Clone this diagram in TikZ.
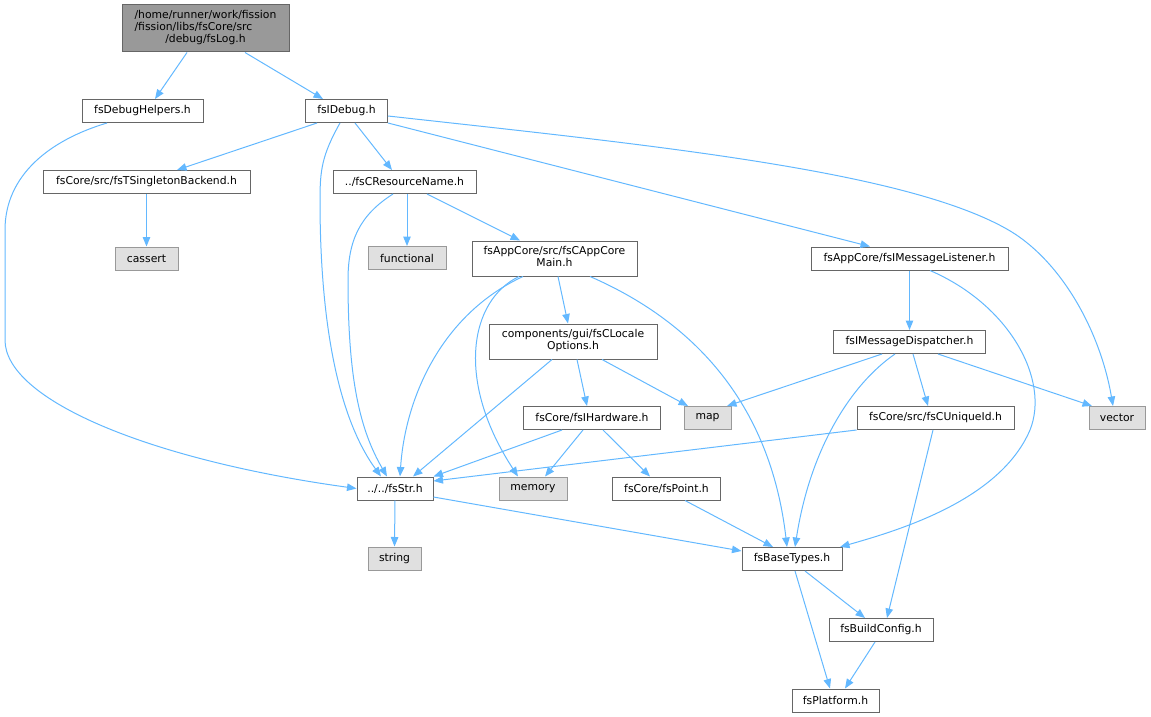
\documentclass[tikz,border=0pt]{standalone}
\usepackage{fontspec}
\setmainfont{DejaVu Sans}
\usetikzlibrary{arrows.meta}
\definecolor{edgec}{HTML}{63B8FF}
\definecolor{bord}{HTML}{666666}
\definecolor{extbord}{HTML}{999999}
\definecolor{extfill}{HTML}{E0E0E0}
\definecolor{rootfill}{HTML}{999999}
\tikzset{
  box/.style={draw=bord, fill=white, line width=1pt, rectangle, inner sep=0pt, font=\fontsize{10.8}{12}\selectfont, text=black},
  ext/.style={box, draw=extbord, fill=extfill},
  rootbox/.style={box, fill=rootfill},
  edge/.style={draw=edgec, line width=1pt, -{Triangle[length=9.5pt,width=7.5pt]}},
}
\begin{document}
\begin{tikzpicture}[x=1pt,y=-1pt]
\useasboundingbox (0,0) rectangle (1151,717);
% nodes
\node[rootbox, minimum width=167pt, minimum height=47pt] (root) at (205.5,28.5)
  {\begin{tabular}{@{}l@{}}/home/runner/work/fission\\/fission/libs/fsCore/src\\\multicolumn{1}{@{}c@{}}{/debug/fsLog.h}\end{tabular}};
\node[box, minimum width=121pt, minimum height=23pt] (dbgh) at (142.5,111) {fsDebugHelpers.h};
\node[box, minimum width=82pt, minimum height=23pt] (idebug) at (346.5,111) {fsIDebug.h};
\node[box, minimum width=207pt, minimum height=23pt] (single) at (146.5,182) {fsCore/src/fsTSingletonBackend.h};
\node[box, minimum width=143pt, minimum height=23pt] (resname) at (404.5,182) {../fsCResourceName.h};
\node[ext, minimum width=63pt, minimum height=23pt] (cassert) at (146.5,258.5) {cassert};
\node[ext, minimum width=78pt, minimum height=23pt] (functional) at (407,258) {functional};
\node[box, minimum width=165pt, minimum height=35pt] (appmain) at (554.5,258.5)
  {\begin{tabular}{@{}l@{}}fsAppCore/src/fsCAppCore\\\multicolumn{1}{@{}c@{}}{Main.h}\end{tabular}};
\node[box, minimum width=197pt, minimum height=23pt] (listener) at (909.5,258.5) {fsAppCore/fsIMessageListener.h};
\node[box, minimum width=168pt, minimum height=35pt] (locale) at (573,341.5)
  {\begin{tabular}{@{}l@{}}components/gui/fsCLocale\\\multicolumn{1}{@{}c@{}}{Options.h}\end{tabular}};
\node[box, minimum width=152pt, minimum height=23pt] (dispatcher) at (909.5,342) {fsIMessageDispatcher.h};
\node[box, minimum width=137pt, minimum height=23pt] (hardware) at (592,418) {fsCore/fsIHardware.h};
\node[ext, minimum width=47pt, minimum height=23pt] (map) at (707.5,418) {map};
\node[box, minimum width=157pt, minimum height=23pt] (uniqueid) at (935.5,418) {fsCore/src/fsCUniqueId.h};
\node[ext, minimum width=56pt, minimum height=23pt] (vector) at (1117,418) {vector};
\node[box, minimum width=76pt, minimum height=23pt] (fsstr) at (395,488.5) {../../fsStr.h};
\node[ext, minimum width=68pt, minimum height=23pt] (memory) at (533,488.5) {memory};
\node[box, minimum width=108pt, minimum height=23pt] (point) at (666.5,488.5) {fsCore/fsPoint.h};
\node[ext, minimum width=53pt, minimum height=23pt] (string) at (394.5,558.5) {string};
\node[box, minimum width=100pt, minimum height=23pt] (basetypes) at (792,559) {fsBaseTypes.h};
\node[box, minimum width=104pt, minimum height=23pt] (buildconfig) at (881,630) {fsBuildConfig.h};
\node[box, minimum width=87pt, minimum height=23pt] (platform) at (835.5,700.5) {fsPlatform.h};
% edges
\draw[edge] ([xshift=-18.5pt]root.south) -- ([xshift=12.5pt]dbgh.north);
\draw[edge] ([xshift=39.5pt]root.south) -- ([xshift=-23.5pt]idebug.north);
\draw[edge] ([xshift=-35.5pt]dbgh.south) .. controls (50,140) and (5,175) .. (5,230) -- (5,340) .. controls (5,400) and (150,460) .. (fsstr.west);
\draw[edge] ([xshift=-29.5pt]idebug.south) -- ([xshift=30.5pt]single.north);
\draw[edge] ([xshift=8.5pt]idebug.south) -- ([xshift=-12.5pt]resname.north);
\draw[edge] ([xshift=-6.5pt]idebug.south) .. controls (322,155) and (320,170) .. (320,200) .. controls (320,330) and (340,420) .. ([xshift=-14pt]fsstr.north);
\draw[edge] ([xshift=-11.5pt]resname.south) .. controls (360,215) and (348,240) .. (348,280) .. controls (348,380) and (360,430) .. ([xshift=-8pt]fsstr.north);
\draw[edge] ([xshift=2.5pt]resname.south) -- (functional.north);
\draw[edge] ([xshift=22.5pt]resname.south) -- ([xshift=-34.5pt]appmain.north);
\draw[edge] (idebug.south east) -- ([xshift=-39.5pt]listener.north);
\draw[edge] ([yshift=-5pt]idebug.east) .. controls (650,145) and (900,170) .. (1005,228) .. controls (1060,258) and (1100,330) .. ([xshift=-4pt]vector.north);
\draw[edge] (single.south) -- (cassert.north);
\draw[edge] ([xshift=3.5pt]appmain.south) -- ([xshift=-5pt]locale.north);
\draw[edge] ([xshift=-31.5pt]appmain.south) .. controls (440,315) and (405,400) .. ([xshift=5pt]fsstr.north);
\draw[edge] ([xshift=-35.5pt]appmain.south) .. controls (470,300) and (455,380) .. ([xshift=-15pt]memory.north);
\draw[edge] ([xshift=35.5pt]appmain.south) .. controls (690,320) and (770,400) .. ([xshift=-5pt]basetypes.north);
\draw[edge] (listener.south) -- (dispatcher.north);
\draw[edge] ([xshift=20.5pt]listener.south) .. controls (1010,305) and (1050,380) .. (1030,430) .. controls (1000,500) and (900,530) .. ([xshift=48pt]basetypes.north);
\draw[edge] ([xshift=4pt]locale.south) -- ([xshift=-5pt]hardware.north);
\draw[edge] ([xshift=29pt]locale.south) -- ([xshift=-19.5pt]map.north);
\draw[edge] ([xshift=-21pt]locale.south) -- ([xshift=18pt]fsstr.north);
\draw[edge] ([xshift=-27.5pt]dispatcher.south) -- ([xshift=19.5pt]map.north);
\draw[edge] ([xshift=3.5pt]dispatcher.south) -- ([xshift=-7.5pt]uniqueid.north);
\draw[edge] ([xshift=28.5pt]dispatcher.south) -- ([xshift=-25pt]vector.north);
\draw[edge] ([xshift=-14.5pt]dispatcher.south) .. controls (850,385) and (810,450) .. ([xshift=3pt]basetypes.north);
\draw[edge] ([xshift=-30pt]hardware.south) -- (fsstr.north east);
\draw[edge] ([xshift=-9pt]hardware.south) -- ([xshift=12pt]memory.north);
\draw[edge] ([xshift=11pt]hardware.south) -- ([xshift=-16.5pt]point.north);
\draw[edge] (uniqueid.south west) -- ([yshift=7.5pt]fsstr.east);
\draw[edge] ([xshift=-2.5pt]uniqueid.south) -- ([xshift=6pt]buildconfig.north);
\draw[edge] (fsstr.south) -- (string.north);
\draw[edge] ([yshift=-8.5pt]fsstr.east) -- ([yshift=8pt]basetypes.west);
\draw[edge] ([xshift=18.5pt]point.south) -- ([xshift=-19pt]basetypes.north);
\draw[edge] ([xshift=13pt]basetypes.south) -- ([xshift=-16pt]buildconfig.north);
\draw[edge] ([xshift=3pt]basetypes.south) -- ([xshift=-5.5pt]platform.north);
\draw[edge] ([xshift=-6pt]buildconfig.south) -- ([xshift=9.5pt]platform.north);
\end{tikzpicture}
\end{document}
